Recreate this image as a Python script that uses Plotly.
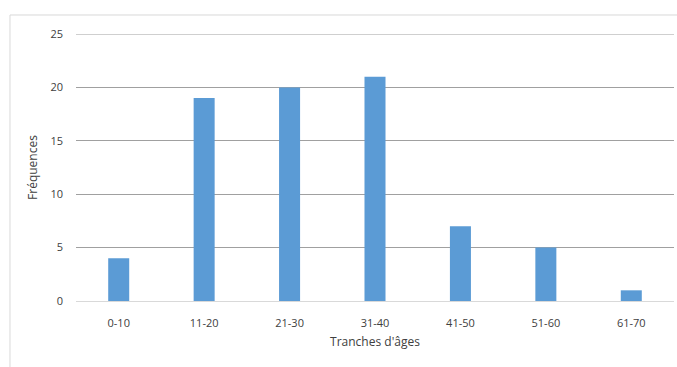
import plotly.graph_objects as go

categories = ["0-10", "11-20", "21-30", "31-40", "41-50", "51-60", "61-70"]
frequences = [4, 19, 20, 21, 7, 5, 1]
y_ticks = [0, 5, 10, 15, 20, 25]

fig = go.Figure(go.Bar(x=categories, y=frequences, marker=dict(color="#5B9BD5", line=dict(width=0))))

font = dict(family="Open Sans, Liberation Sans, sans-serif", size=11, color="#404040")
fig.update_layout(
    width=677, height=367,
    margin=dict(l=76, r=3, t=34, b=66),
    plot_bgcolor="white", paper_bgcolor="white",
    bargap=0.754,
    font=font,
    showlegend=False,
    xaxis=dict(
        showgrid=False, showline=True, linecolor="#d9d9d9", linewidth=1,
        ticks="", ticklabelstandoff=12, tickfont=dict(size=11),
        title=dict(text="Tranches d'âges", standoff=8, font=dict(size=12)),
    ),
    yaxis=dict(
        range=[0, 25], tickvals=y_ticks, showgrid=True, gridcolor="#a0a0a0", gridwidth=1,
        zeroline=False, showline=False, ticks="", ticklabelstandoff=12,
        tickfont=dict(size=11),
        title=dict(text="Fréquences", standoff=10, font=dict(size=12)),
    ),
    shapes=[
        dict(type="line", xref="paper", yref="y", x0=0, x1=1, y0=y_ticks[-1], y1=y_ticks[-1],
             line=dict(color="#a0a0a0", width=1)),
        dict(type="line", xref="paper", yref="paper", x0=-0.1104, x1=1.2, y0=1.0712, y1=1.0712,
             line=dict(color="#d9d9d9", width=1), layer="below"),
        dict(type="line", xref="paper", yref="paper", x0=-0.1104, x1=-0.1104, y0=-0.5, y1=1.0712,
             line=dict(color="#d9d9d9", width=1), layer="below"),
    ],
)
fig.write_html("out.html", config={"displayModeBar": False},
               post_script="document.body.style.margin='0';document.body.style.overflow='hidden';")
